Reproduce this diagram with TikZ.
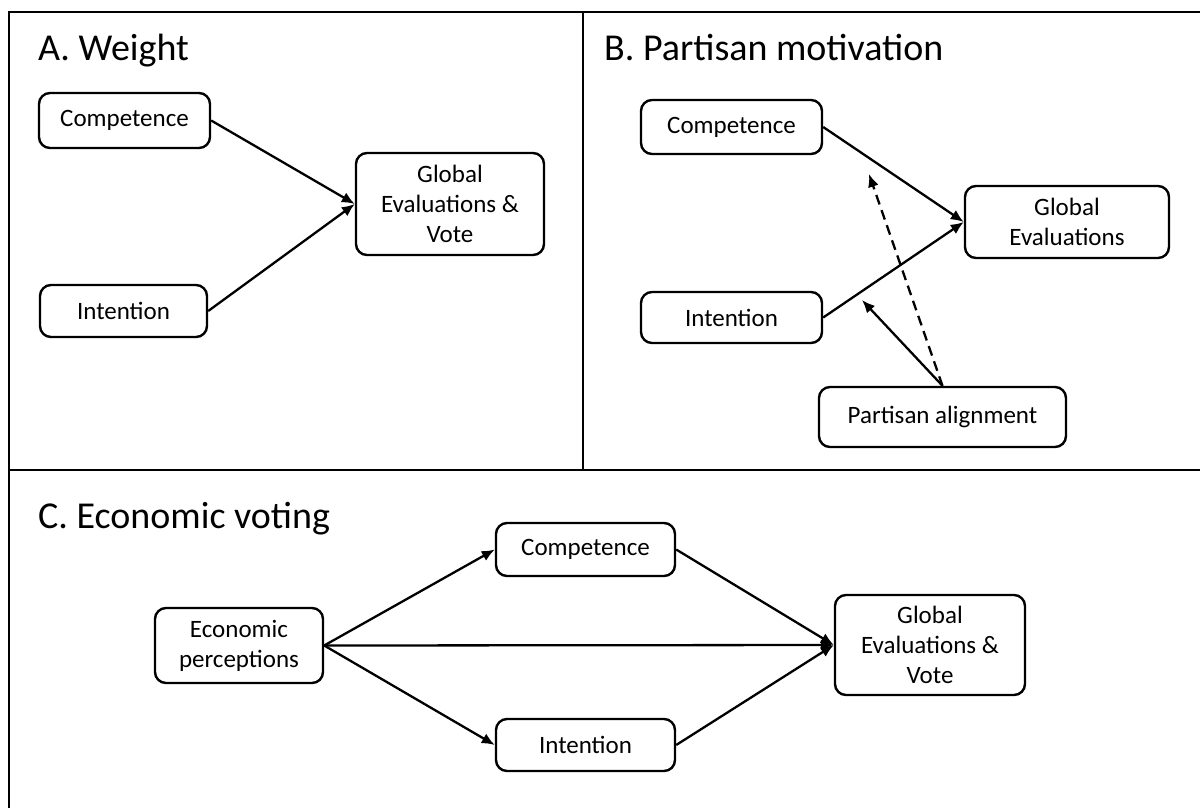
\documentclass[tikz,border=0pt]{standalone}
\usepackage{fontspec}
\setmainfont{Carlito}
\usetikzlibrary{arrows.meta}
\begin{document}
\begin{tikzpicture}[x=1pt,y=-1pt,
  box/.style={draw=black, line width=2.4pt, rounded corners=11pt, align=center,
    inner sep=0pt, font=\fontsize{25}{30}\selectfont},
  paneltitle/.style={anchor=base west, inner sep=0pt, font=\fontsize{38}{45}\selectfont},
  frame/.style={line width=2.8pt, black},
  arr/.style={line width=2.3pt, -{Latex[length=13pt,width=11pt]}},
  dasharr/.style={line width=2.3pt, dash pattern=on 10pt off 6pt, -{Latex[length=13pt,width=11pt]}}
]
\useasboundingbox (0,0) rectangle (1200,807);
\fill[white] (0,0) rectangle (1200,807);

% frame
\coordinate (fTL) at (9,12);
\coordinate (fTR) at (1202,12);
\coordinate (fBL) at (9,809);
\coordinate (vTop) at (583,12);
\coordinate (vBot) at (583,470);
\coordinate (hL) at (9,470);
\coordinate (hR) at (1202,470);
\draw[frame] (fBL) -- (fTL) -- (fTR);
\draw[frame] (vTop) -- (vBot);
\draw[frame] (hL) -- (hR);

% titles
\node[paneltitle] (tA) at (38,60) {A. Weight};
\node[paneltitle] (tB) at (604,60) {B. Partisan motivation};
\node[paneltitle] (tC) at (38,528) {C. Economic voting};

% Panel A
\node[box, minimum width=171pt, minimum height=55pt] (aC) at (124.5,120.5) {Competence};
\node[box, minimum width=167pt, minimum height=52pt] (aI) at (123.5,311) {Intention};
\node[box, minimum width=188pt, minimum height=102pt] (aG) at (450,204) {Global\\Evaluations \&\\Vote};
\draw[arr] (aC.east) -- (aG.west);
\draw[arr] (aI.east) -- (aG.west);

% Panel B
\node[box, minimum width=181pt, minimum height=54pt] (bC) at (731.5,127) {Competence};
\node[box, minimum width=181pt, minimum height=51pt] (bI) at (731.5,317.5) {Intention};
\node[box, minimum width=204pt, minimum height=72pt] (bG) at (1067,222) {Global\\Evaluations};
\node[box, minimum width=247pt, minimum height=60pt] (bP) at (942.5,417) {Partisan alignment};
\coordinate (modC) at (869,174);
\coordinate (modI) at (862,300);
\draw[arr] (bC.east) -- (bG.west);
\draw[arr] (bI.east) -- (bG.west);
\draw[dasharr] (bP.north) -- (modC);
\draw[arr] (bP.north) -- (modI);

% Panel C
\node[box, minimum width=179pt, minimum height=53pt] (cC) at (585.5,549.5) {Competence};
\node[box, minimum width=168pt, minimum height=75pt] (cE) at (239,645.5) {Economic\\perceptions};
\node[box, minimum width=190pt, minimum height=100pt] (cG) at (930,645) {Global\\Evaluations \&\\Vote};
\node[box, minimum width=179pt, minimum height=52pt] (cI) at (585.5,745) {Intention};
\draw[arr] (cE.east) -- (cC.west);
\draw[arr] (cE.east) -- (cI.west);
\draw[arr] (cE.east) -- (cG.west);
\draw[arr] (cC.east) -- (cG.west);
\draw[arr] (cI.east) -- (cG.west);
\end{tikzpicture}
\end{document}
